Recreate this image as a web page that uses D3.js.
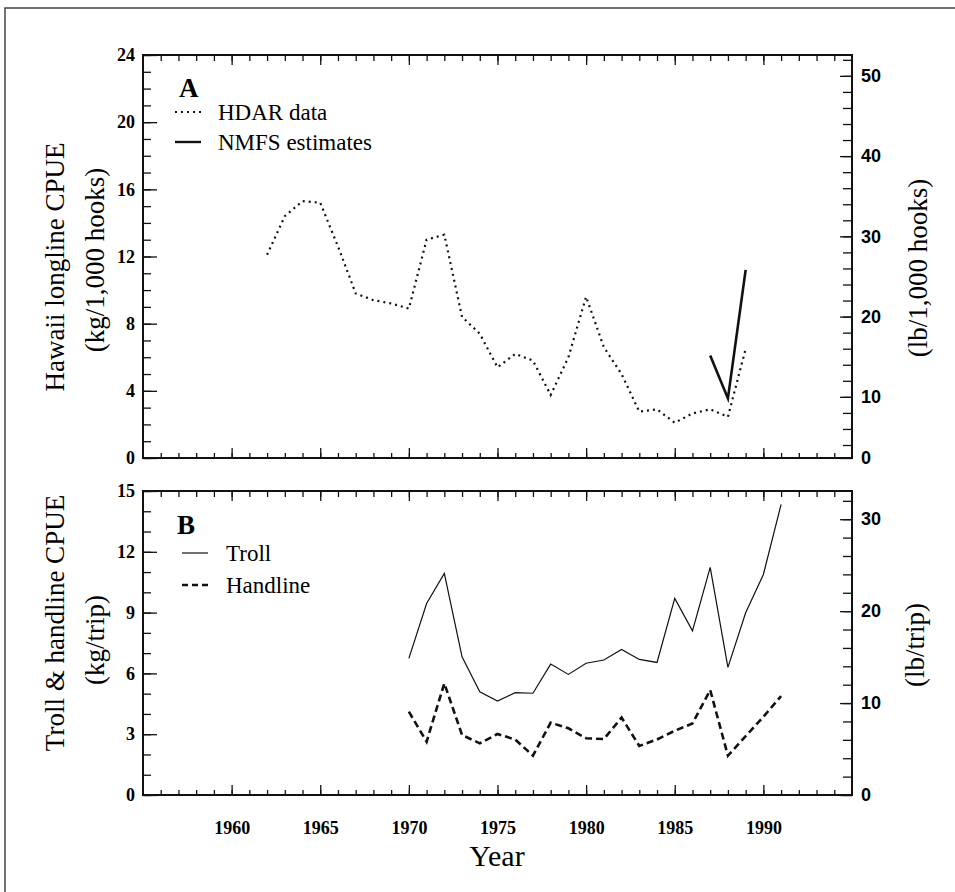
<!DOCTYPE html>
<html><head><meta charset="utf-8">
<script src="https://cdn.jsdelivr.net/npm/d3@7"></script>
<style>
body{margin:0;background:#fff;}
</style></head><body>
<script>
// ---- data ----
const hdarYears = [1962,1963,1964,1965,1966,1967,1968,1969,1970,1971,1972,1973,1974,1975,1976,1977,1978,1979,1980,1981,1982,1983,1984,1985,1986,1987,1988,1989];
const hdarCPUE  = [12.1,14.4,15.3,15.2,12.6,9.8,9.4,9.2,8.9,13.0,13.3,8.4,7.4,5.4,6.2,5.8,3.75,6.0,9.6,6.6,5.0,2.76,2.9,2.1,2.65,2.9,2.45,6.5];
const nmfsYears = [1987,1988,1989];
const nmfsCPUE  = [6.1,3.55,11.2];
const bYears    = [1970,1971,1972,1973,1974,1975,1976,1977,1978,1979,1980,1981,1982,1983,1984,1985,1986,1987,1988,1989,1990,1991];
const trollCPUE = [6.74,9.45,10.93,6.82,5.09,4.64,5.05,5.02,6.46,5.95,6.5,6.66,7.18,6.69,6.54,9.7,8.1,11.23,6.3,8.99,10.88,14.34];
const handCPUE  = [4.11,2.63,5.51,2.96,2.55,3.01,2.74,1.94,3.57,3.29,2.8,2.76,3.82,2.42,2.74,3.17,3.53,5.18,1.94,2.9,3.86,4.88];
const yearTicks = [1960,1965,1970,1975,1980,1985,1990];
const kgTicksA  = [0,4,8,12,16,20,24];
const lbTicksA  = [0,10,20,30,40,50];
const kgTicksB  = [0,3,6,9,12,15];
const lbTicksB  = [0,10,20,30];

const SERIF='"Liberation Serif","Times New Roman",serif';
const NARROW='"Liberation Sans Narrow","Liberation Sans",sans-serif';
const W=955,H=892;
const svg=d3.select("body").append("svg").attr("width",W).attr("height",H);

svg.append("path").attr("d","M5,892V8H955").attr("fill","none").attr("stroke","#444").attr("stroke-width",1.5);

const L=143,R=852;
const x=d3.scaleLinear().domain([1955,1995]).range([L,R]);
const minorYears=d3.range(1956,1995);

function styleTicks(sel,fam){
  sel.selectAll(".tick text").style("font-family",fam).style("font-size","18px")
    .style("font-weight","bold").style("fill","#000");
}

function panel(top,bottom,kgMax,kgMajor,lbScaleFn,lbMajor,lbMinor,showXLabels){
  const y=d3.scaleLinear().domain([0,kgMax]).range([bottom,top]);
  const yr=lbScaleFn(bottom,top);
  const g=svg.append("g");
  g.append("g").attr("transform",`translate(0,${bottom})`)
    .call(d3.axisBottom(x).tickValues(minorYears).tickSize(-5).tickFormat(""))
    .call(a=>a.select(".domain").remove());
  g.append("g").attr("transform",`translate(0,${top})`)
    .call(d3.axisTop(x).tickValues(minorYears).tickSize(-6).tickFormat(""))
    .call(a=>a.select(".domain").remove());
  g.append("g").attr("transform",`translate(${L},0)`)
    .call(d3.axisLeft(y).tickValues(d3.range(0,kgMax+1,1)).tickSize(-8).tickFormat(""))
    .call(a=>a.select(".domain").remove());
  g.append("g").attr("transform",`translate(${R},0)`)
    .call(d3.axisRight(yr).tickValues(lbMinor).tickSize(-9).tickFormat(""))
    .call(a=>a.select(".domain").remove());
  const bx=g.append("g").attr("transform",`translate(0,${bottom})`)
    .call(d3.axisBottom(x).tickValues(yearTicks).tickSizeInner(-10).tickSizeOuter(0).tickPadding(26).tickFormat(showXLabels?d3.format("d"):""));
  bx.select(".domain").remove();
  styleTicks(bx,SERIF);
  g.append("g").attr("transform",`translate(0,${top})`)
    .call(d3.axisTop(x).tickValues(yearTicks).tickSize(-10).tickFormat(""))
    .call(a=>a.select(".domain").remove());
  const ly=g.append("g").attr("transform",`translate(${L},0)`)
    .call(d3.axisLeft(y).tickValues(kgMajor).tickSizeInner(-14).tickSizeOuter(0))
    .call(a=>a.select(".domain").remove());
  ly.selectAll(".tick text").attr("x",-8);
  styleTicks(ly,SERIF);
  const ry=g.append("g").attr("transform",`translate(${R},0)`)
    .call(d3.axisRight(yr).tickValues(lbMajor).tickSizeInner(-12).tickSizeOuter(0))
    .call(a=>a.select(".domain").remove());
  ry.selectAll(".tick text").attr("x",9);
  styleTicks(ry,NARROW);
  g.selectAll(".tick line").attr("stroke","#111").attr("stroke-width",1.3);
  g.append("rect").attr("x",L).attr("y",top).attr("width",R-L).attr("height",bottom-top)
    .attr("fill","none").attr("stroke","#111").attr("stroke-width",2);
  return {y,g};
}

const A=panel(55,458,24,kgTicksA,
  (b,t)=>d3.scaleLinear().domain([0,4,52.6]).range([b,b-13,t]),
  lbTicksA,d3.range(4,53,2),false);
const lineA=d3.line().x(d=>x(d[0])).y(d=>A.y(d[1]));
A.g.append("path").datum(d3.zip(hdarYears,hdarCPUE)).attr("d",lineA)
  .attr("fill","none").attr("stroke","#111").attr("stroke-width",2.2).attr("stroke-dasharray","2,4");
A.g.append("path").datum(d3.zip(nmfsYears,nmfsCPUE)).attr("d",lineA)
  .attr("fill","none").attr("stroke","#111").attr("stroke-width",2.6);

const B=panel(491,795,15,kgTicksB,
  (b,t)=>d3.scaleLinear().domain([0,15*2.2046]).range([b,t]),
  lbTicksB,d3.range(0,33,2),true);
const lineB=d3.line().x(d=>x(d[0])).y(d=>B.y(d[1]));
B.g.append("path").datum(d3.zip(bYears,trollCPUE)).attr("d",lineB)
  .attr("fill","none").attr("stroke","#111").attr("stroke-width",1.2);
B.g.append("path").datum(d3.zip(bYears,handCPUE)).attr("d",lineB)
  .attr("fill","none").attr("stroke","#111").attr("stroke-width",2.6).attr("stroke-dasharray","7,4");

function txt(xp,yp,s,size,weight){
  return svg.append("text").attr("x",xp).attr("y",yp).text(s)
    .style("font-family",SERIF).style("font-size",size+"px").style("font-weight",weight||"normal").style("fill","#000");
}
function legItem(x1,yLine,label,style,yText,xText){
  svg.append("line").attr("x1",x1).attr("x2",x1+26).attr("y1",yLine).attr("y2",yLine)
    .attr("stroke","#111").attr("stroke-width",style.w).attr("stroke-dasharray",style.dash||null);
  txt(xText,yText,label,23);
}
txt(179,97,"A",27,"bold");
legItem(175,112,"HDAR data",{w:2,dash:"2,4"},120,218);
legItem(175,142,"NMFS estimates",{w:2.4},150,218);
txt(177,534,"B",27,"bold");
legItem(182,553,"Troll",{w:1.2},561,226);
legItem(182,585,"Handline",{w:2.4,dash:"6,4"},593,226);

function vtext(cx,cy,s,size){
  svg.append("text").attr("transform",`translate(${cx},${cy}) rotate(-90)`)
    .attr("text-anchor","middle").attr("dominant-baseline","central").text(s)
    .style("font-family",SERIF).style("font-size",size+"px").style("fill","#000");
}
vtext(55,267,"Hawaii longline CPUE",27);
vtext(95,260,"(kg/1,000 hooks)",27);
vtext(918,268,"(lb/1,000 hooks)",27);
vtext(55,623,"Troll & handline CPUE",27);
vtext(95,640,"(kg/trip)",27);
vtext(915,645,"(lb/trip)",27);
txt(497,866,"Year",30).attr("text-anchor","middle");
</script></body></html>
